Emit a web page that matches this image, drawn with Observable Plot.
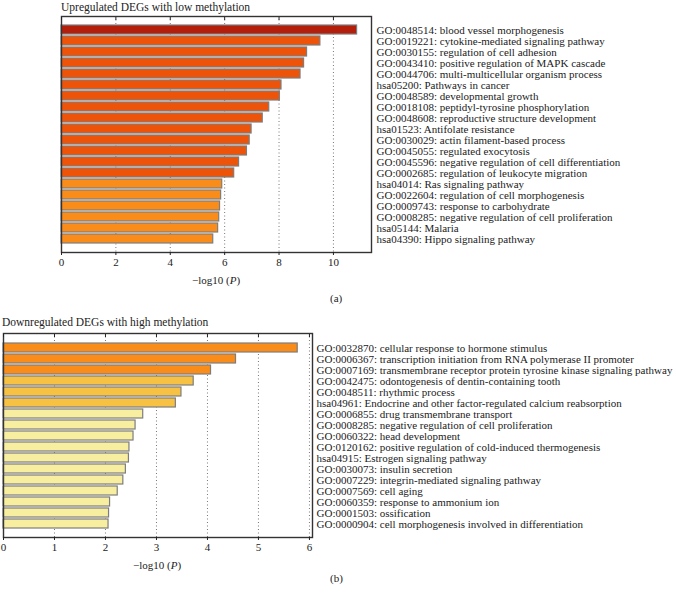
<!DOCTYPE html>
<html>
<head>
<meta charset="utf-8">
<script src="https://cdn.jsdelivr.net/npm/d3@7"></script>
<script src="https://cdn.jsdelivr.net/npm/@observablehq/plot@0.6"></script>
<style>
  html, body { margin: 0; padding: 0; background: #fff; }
  body { width: 676px; height: 593px; position: relative; overflow: hidden; font-family: "Liberation Serif", "DejaVu Serif", serif; color: #222; }
  .title { position: absolute; font-size: 11.5px; line-height: 12px; white-space: nowrap; }
  .panel { position: absolute; left: 0; }
  .panel svg text { font-family: "Liberation Serif", "DejaVu Serif", serif; font-size: 11px; fill: #222; }
  .sub { position: absolute; font-size: 11px; line-height: 12px; }
  .xlab { position: absolute; font-size: 11px; line-height: 12px; transform: translateX(-50%); white-space: nowrap; }
</style>
</head>
<body>
<div class="title" style="left:61px; top:1px;">Upregulated DEGs with low methylation</div>
<div class="panel" id="top" style="top:0px;"></div>
<div class="xlab" style="left:216px; top:274px;">−log10 (<i>P</i>)</div>
<div class="sub" style="left:330px; top:292px;">(a)</div>

<div class="title" style="left:2px; top:316px;">Downregulated DEGs with high methylation</div>
<div class="panel" id="bottom" style="top:300px;"></div>
<div class="xlab" style="left:157px; top:559px;">−log10 (<i>P</i>)</div>
<div class="sub" style="left:330px; top:572px;">(b)</div>

<script>
// ---- Panel (a): Upregulated DEGs with low methylation ----
const upTerms = [
  "GO:0048514: blood vessel morphogenesis",
  "GO:0019221: cytokine-mediated signaling pathway",
  "GO:0030155: regulation of cell adhesion",
  "GO:0043410: positive regulation of MAPK cascade",
  "GO:0044706: multi-multicellular organism process",
  "hsa05200: Pathways in cancer",
  "GO:0048589: developmental growth",
  "GO:0018108: peptidyl-tyrosine phosphorylation",
  "GO:0048608: reproductive structure development",
  "hsa01523: Antifolate resistance",
  "GO:0030029: actin filament-based process",
  "GO:0045055: regulated exocytosis",
  "GO:0045596: negative regulation of cell differentiation",
  "GO:0002685: regulation of leukocyte migration",
  "hsa04014: Ras signaling pathway",
  "GO:0022604: regulation of cell morphogenesis",
  "GO:0009743: response to carbohydrate",
  "GO:0008285: negative regulation of cell proliferation",
  "hsa05144: Malaria",
  "hsa04390: Hippo signaling pathway"
];
const upValues = [10.87, 9.52, 9.03, 8.92, 8.79, 8.09, 8.03, 7.64, 7.40, 6.99,
                  6.92, 6.82, 6.53, 6.35, 5.91, 5.87, 5.83, 5.80, 5.76, 5.58];
const upColors = ["#b31f0b",
  "#ee5409","#ee5409","#ee5409","#ee5409","#ee5409","#ee5409","#ee5409",
  "#ee5409","#ee5409","#ee5409","#ee5409","#ee5409","#ee5409",
  "#fa8c19","#fa8c19","#fa8c19","#fa8c19","#fa8c19","#fa8c19"];
const upTicks = [0, 2, 4, 6, 8, 10];

// ---- Panel (b): Downregulated DEGs with high methylation ----
const downTerms = [
  "GO:0032870: cellular response to hormone stimulus",
  "GO:0006367: transcription initiation from RNA polymerase II promoter",
  "GO:0007169: transmembrane receptor protein tyrosine kinase signaling pathway",
  "GO:0042475: odontogenesis of dentin-containing tooth",
  "GO:0048511: rhythmic process",
  "hsa04961: Endocrine and other factor-regulated calcium reabsorption",
  "GO:0006855: drug transmembrane transport",
  "GO:0008285: negative regulation of cell proliferation",
  "GO:0060322: head development",
  "GO:0120162: positive regulation of cold-induced thermogenesis",
  "hsa04915: Estrogen signaling pathway",
  "GO:0030073: insulin secretion",
  "GO:0007229: integrin-mediated signaling pathway",
  "GO:0007569: cell aging",
  "GO:0060359: response to ammonium ion",
  "GO:0001503: ossification",
  "GO:0000904: cell morphogenesis involved in differentiation"
];
const downValues = [5.77, 4.56, 4.07, 3.73, 3.49, 3.38, 2.74, 2.59, 2.55, 2.47,
                    2.46, 2.40, 2.35, 2.24, 2.09, 2.07, 2.06];
const downColors = ["#fa8c19","#fa8c19","#fa8c19",
  "#f7c143","#f7c143","#f7c143",
  "#f8ee9f","#f8ee9f","#f8ee9f","#f8ee9f","#f8ee9f","#f8ee9f",
  "#f8ee9f","#f8ee9f","#f8ee9f","#f8ee9f","#f8ee9f"];
const downTicks = [0, 1, 2, 3, 4, 5, 6];

function makePanel({terms, values, colors, ticks, xmax, height, marginTop, marginBottom, marginLeft, marginRight, pIn, pOut, labelDx}) {
  const data = terms.map((t, i) => ({term: t, value: values[i], color: colors[i]}));
  return Plot.plot({
    width: 676,
    height,
    marginTop, marginBottom, marginLeft, marginRight,
    style: {fontFamily: "'Liberation Serif', 'DejaVu Serif', serif", fontSize: "11px", color: "#222", background: "transparent", overflow: "visible"},
    x: {domain: [0, xmax], ticks, label: null},
    y: {domain: terms, paddingInner: pIn, paddingOuter: pOut, label: null},
    marks: [
      Plot.ruleX(ticks.filter(t => t > 0), {stroke: "#777", strokeDasharray: "1,2.5", strokeWidth: 1}),
      Plot.barX(data, {x: "value", y: "term", fill: "color", stroke: "#7d7d7d", strokeWidth: 1.2}),
      Plot.frame({stroke: "#333", strokeWidth: 1.4}),
      Plot.axisX({anchor: "bottom", ticks, tickSize: 3, tickPadding: 3, tickFormat: d => String(d), label: null}),
      Plot.axisX({anchor: "top", ticks, tickSize: -3, text: null, label: null}),
      Plot.axisY({anchor: "right", tickSize: 0, tickPadding: labelDx, label: null})
    ]
  });
}

document.getElementById("top").append(makePanel({
  terms: upTerms, values: upValues, colors: upColors, ticks: upTicks,
  xmax: 11.4, height: 280, marginTop: 16, marginBottom: 28, marginLeft: 61, marginRight: 305,
  pIn: 0.15, pOut: 0.555, labelDx: 5
}));

document.getElementById("bottom").append(makePanel({
  terms: downTerms, values: downValues, colors: downColors, ticks: downTicks,
  xmax: 6.06, height: 265, marginTop: 33, marginBottom: 28, marginLeft: 3, marginRight: 364,
  pIn: 0.2, pOut: 0.55, labelDx: 4
}));
</script>
</body>
</html>
